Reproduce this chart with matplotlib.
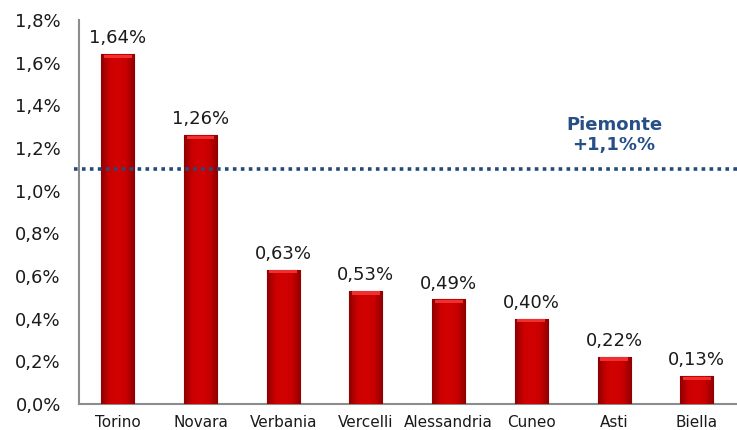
import numpy as np
import matplotlib
matplotlib.use("Agg")
import matplotlib.pyplot as plt
from matplotlib.colors import LinearSegmentedColormap

# dati
province = ["Torino", "Novara", "Verbania", "Vercelli", "Alessandria", "Cuneo", "Asti", "Biella"]
valori = [1.64, 1.26, 0.63, 0.53, 0.49, 0.40, 0.22, 0.13]
etichette = ["1,64%", "1,26%", "0,63%", "0,53%", "0,49%", "0,40%", "0,22%", "0,13%"]
piemonte = 1.1
yticks = [0.0, 0.2, 0.4, 0.6, 0.8, 1.0, 1.2, 1.4, 1.6, 1.8]
ytick_labels = ["0,0%", "0,2%", "0,4%", "0,6%", "0,8%", "1,0%", "1,2%", "1,4%", "1,6%", "1,8%"]

plt.rcParams['font.family'] = ['DejaVu Sans']

fig = plt.figure(figsize=(7.37, 4.30), dpi=100)
ax = fig.add_axes([0.107, 0.0605, 0.898, 0.893])

x = np.arange(len(province))
larg = 0.4
bars = ax.bar(x, valori, width=larg, color="#CC0000", edgecolor="#8A0000", linewidth=0.8, zorder=2)

# sfumatura orizzontale sulle barre (effetto cilindro)
cmap = LinearSegmentedColormap.from_list("rosso", ["#8E0000", "#CC0000", "#D20202", "#C80000", "#8E0000"])
grad = np.linspace(0, 1, 100).reshape(1, -1)
for b in bars:
    bx, bw, bh = b.get_x(), b.get_width(), b.get_height()
    im = ax.imshow(grad, extent=[bx, bx + bw, 0, bh], aspect="auto", cmap=cmap, zorder=3)
    im.set_clip_path(b)
    # bordo superiore chiaro
    ax.fill_between([bx + bw * 0.08, bx + bw * 0.92], bh - 0.018, bh - 0.002,
                    color="#F03030", zorder=4, linewidth=0)

for xi, v, t in zip(x, valori, etichette):
    ax.annotate(t, (xi, v), xytext=(0, 5), textcoords="offset points",
                ha="center", va="bottom", fontsize=13, color="#1a1a1a")

# linea media regionale
ax.plot([-0.53, 7.6], [piemonte, piemonte], linestyle=(0, (1, 1.2)), color="#244B7E",
        linewidth=2.6, zorder=5, clip_on=False)
ax.text(6.0, 1.26, "Piemonte\n+1,1%%", ha="center", va="center", fontsize=13,
        fontweight="bold", color="#264F86", linespacing=1.1)

ax.set_xlim(-0.47, 7.53)
ax.set_ylim(0, 1.8)
ax.set_yticks(yticks)
ax.set_yticklabels(ytick_labels, fontsize=13, color="#1a1a1a")
ax.set_xticks(x)
ax.set_xticklabels(province, fontsize=11, color="#1a1a1a")
ax.tick_params(axis="x", length=0, pad=8)
ax.tick_params(axis="y", length=0, pad=13)
for s in ["top", "right"]:
    ax.spines[s].set_visible(False)
ax.spines["left"].set_color("#8c8c8c")
ax.spines["bottom"].set_color("#8c8c8c")
ax.spines["left"].set_linewidth(1.5)
ax.spines["bottom"].set_linewidth(1.5)

fig.savefig("out.png", dpi=100)
